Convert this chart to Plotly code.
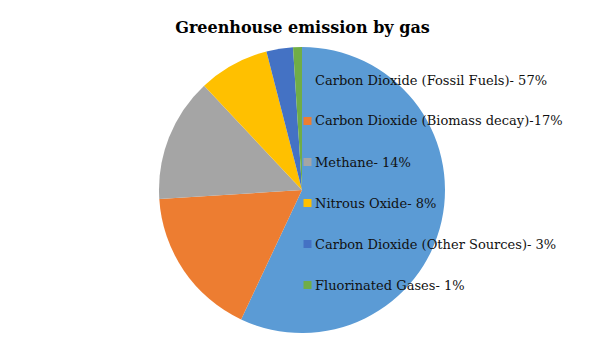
import plotly.graph_objects as go

labels = ["Carbon Dioxide (Fossil Fuels)- 57%",
          "Carbon Dioxide (Biomass decay)-17%",
          "Methane- 14%",
          "Nitrous Oxide- 8%",
          "Carbon Dioxide (Other Sources)- 3%",
          "Fluorinated Gases- 1%"]
values = [57, 17, 14, 8, 3, 1]
colors = ["#5B9BD5", "#ED7D31", "#A5A5A5", "#FFC000", "#4472C4", "#70AD47"]

W, H = 605, 340
cx, cy, r = 302, 190, 143

fig = go.Figure(go.Pie(
    labels=labels, values=values, sort=False, direction="clockwise", rotation=0,
    marker=dict(colors=colors, line=dict(width=0)),
    textinfo="none", hoverinfo="label",
    domain=dict(x=[(cx - r) / W, (cx + r) / W], y=[(H - cy - r) / H, (H - cy + r) / H]),
    showlegend=False,
))

# legend drawn as annotations + square markers
y0, dy = 80, 41
for i, (lab, col) in enumerate(zip(labels, colors)):
    y = y0 + i * dy
    fig.add_shape(type="rect", xref="paper", yref="paper",
                  x0=303.5 / W, x1=311.5 / W, y0=(H - y - 4) / H, y1=(H - y + 4) / H,
                  fillcolor=col, line=dict(width=0))
    fig.add_annotation(text=lab, xref="paper", yref="paper", x=313 / W, y=(H - y) / H,
                       xanchor="left", yanchor="middle", showarrow=False,
                       font=dict(family="DejaVu Serif", size=13, color="#111"))

fig.update_layout(
    width=W, height=H, margin=dict(l=0, r=0, t=0, b=0),
    paper_bgcolor="white", plot_bgcolor="white",
    title=dict(text="<b>Greenhouse emission by gas</b>", x=0.5, xanchor="center",
               y=1 - 27 / H, yanchor="middle",
               font=dict(family="DejaVu Serif", size=16, color="black")),
)
fig.write_html("out.html")
